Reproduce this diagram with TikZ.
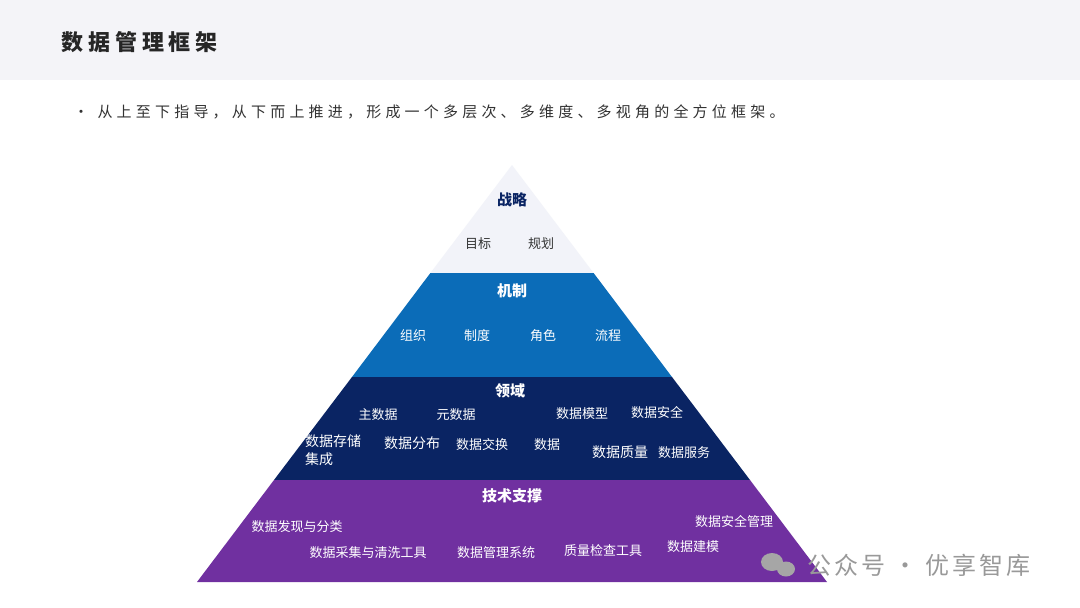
\documentclass[tikz,border=0pt]{standalone}
\usepackage{fontspec}
\setmainfont{Noto Sans CJK SC}
\begin{document}
\begin{tikzpicture}[x=1pt,y=-1pt,
  lb/.style={font=\fontsize{13}{14}\selectfont,text=white,inner sep=1pt},
  hd/.style={font=\fontsize{15}{16}\selectfont\bfseries,text=white,inner sep=1pt}]
\definecolor{bandc}{HTML}{F4F4F8}
\definecolor{topc}{HTML}{F2F3F9}
\definecolor{bluec}{HTML}{0B6CB8}
\definecolor{navyc}{HTML}{0A2463}
\definecolor{purc}{HTML}{7030A0}
\useasboundingbox (0,0) rectangle (1080,608);
\fill[white] (0,0) rectangle (1080,608);
\fill[bandc] (0,0) rectangle (1080,80);
\node[anchor=west,font=\fontsize{22}{24}\selectfont\bfseries\addfontfeature{LetterSpace=22},text=black!85] (title) at (58,42) {数据管理框架};
\node[anchor=west,font=\fontsize{15}{16}\selectfont,text=black!80] (bullet) at (70,112) {•\hspace{9pt}{\addfontfeature{LetterSpace=28}从上至下指导，从下而上推进，形成一个多层次、多维度、多视角的全方位框架。}};
% layers
\fill[topc] (512,165) -- (593.6,273) -- (430.4,273) -- cycle;
\fill[bluec] (430.4,273) -- (593.6,273) -- (672,377) -- (352,377) -- cycle;
\fill[navyc] (352,377) -- (672,377) -- (750,480) -- (274,480) -- cycle;
\fill[purc] (274,480) -- (750,480) -- (827,582) -- (197,582) -- cycle;
% top
\node[hd,text=navyc] (s) at (512,200) {战略};
\node[lb,text=black!80] (s1) at (478,244) {目标};
\node[lb,text=black!80] (s2) at (541,244) {规划};
% mechanism
\node[hd] (m) at (512,291) {机制};
\node[lb] (m1) at (413,336) {组织};
\node[lb] (m2) at (477,336) {制度};
\node[lb] (m3) at (543,336) {角色};
\node[lb] (m4) at (608,336) {流程};
% domain
\node[hd] (d) at (510,391) {领域};
\node[lb] (d1) at (378,415) {主数据};
\node[lb] (d2) at (456,415) {元数据};
\node[lb] (d3) at (582,414) {数据模型};
\node[lb] (d4) at (657,413) {数据安全};
\node[lb,anchor=north west,align=left,font=\fontsize{14}{18}\selectfont] (d5) at (304,434) {数据存储\\集成};
\node[lb,font=\fontsize{14}{15}\selectfont] (d6) at (412,443) {数据分布};
\node[lb] (d7) at (482,445) {数据交换};
\node[lb] (d8) at (547,445) {数据};
\node[lb,font=\fontsize{14}{15}\selectfont] (d9) at (620,452) {数据质量};
\node[lb] (d10) at (684,453) {数据服务};
% tech
\node[hd] (t) at (512,496) {技术支撑};
\node[lb] (t1) at (297,527) {数据发现与分类};
\node[lb] (t2) at (368,553) {数据采集与清洗工具};
\node[lb] (t3) at (496,553) {数据管理系统};
\node[lb] (t4) at (603,551) {质量检查工具};
\node[lb] (t5) at (734,522) {数据安全管理};
\node[lb] (t6) at (693,547) {数据建模};
% watermark
\fill[black!35] (772,562) ellipse (11 and 9);
\fill[black!35] (786,569) ellipse (9 and 7.5);
\node[anchor=west,font=\fontsize{24}{26}\selectfont\addfontfeature{LetterSpace=12},text=black!40] (wm) at (804,565) {公众号 · 优享智库};
\end{tikzpicture}
\end{document}
